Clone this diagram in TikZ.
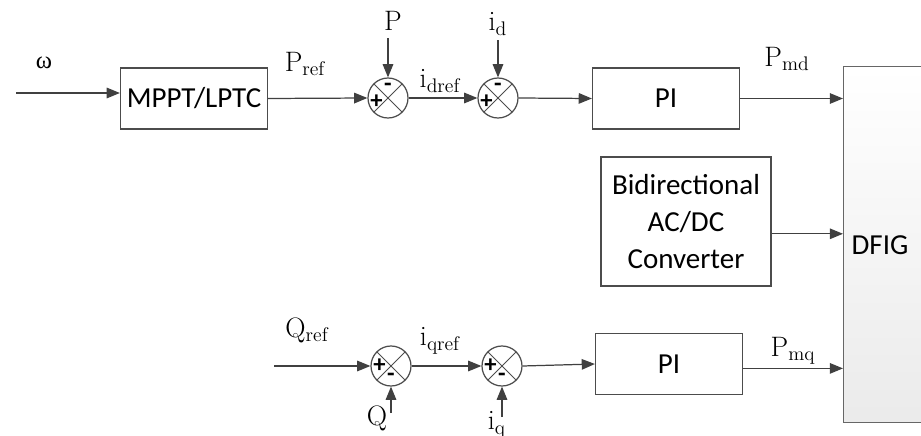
\documentclass[tikz,border=0pt]{standalone}
\usepackage{fontspec}
\newfontfamily\blockfont{Carlito}
\newfontfamily\greekfont{Liberation Serif}
\usetikzlibrary{arrows.meta}

\begin{document}
\begin{tikzpicture}[
    x=0.02cm, y=-0.02cm,
    block/.style = {rectangle, draw=black!70, line width=0.7pt, minimum width=2.94cm,
                    minimum height=1.22cm, align=center, font=\blockfont\fontsize{16.5}{21}\selectfont},
    summer/.style = {circle, draw=black!70, line width=0.7pt, minimum size=0.8cm, inner sep=0pt,
                     path picture={\draw[black!70, line width=0.6pt]
                        (path picture bounding box.south west) -- (path picture bounding box.north east)
                        (path picture bounding box.north west) -- (path picture bounding box.south east);}},
    sig/.style = {font=\blockfont\bfseries\fontsize{14}{14}\selectfont, inner sep=0pt},
    lbl/.style = {font=\fontsize{16}{19}\selectfont, inner sep=0pt},
    dfigbox/.style = {rectangle, draw=black!60, line width=0.7pt, top color=white, bottom color=black!8},
    wire/.style = {->, draw=black!75, line width=0.7pt},
    >={Triangle[length=7.5pt,width=6pt]}
]
\useasboundingbox (0,0) rectangle (921,436);

% --- Blocks ---
\node[block] (mppt) at (194,98.5) {MPPT/LPTC};
\node[block] (pid) at (666,98.5) {PI};
\node[block, minimum width=3.4cm, minimum height=2.58cm] (conv) at (686,221.5) {Bidirectional\\AC/DC\\Converter};
\node[block] (piq) at (669,364) {PI};
\node[dfigbox, anchor=north west, minimum width=1.9cm, minimum height=7.12cm] (dfig) at (843,66) {};
\node[block, draw=none] (dfigtext) at (880,245) {DFIG};

% --- Summing junctions ---
\node[summer] (s1) at (388,98) {};
\node[summer] (s2) at (498,98) {};
\node[summer] (s3) at (391,366) {};
\node[summer] (s4) at (502,366) {};

\node[sig] (s1plus) at ([shift={(-6.5pt,-2pt)}]s1.center) {+};
\node[sig] (s1minus) at ([shift={(0pt,6pt)}]s1.center) {-};
\node[sig] (s2plus) at ([shift={(-6.5pt,-2pt)}]s2.center) {+};
\node[sig] (s2minus) at ([shift={(0pt,6pt)}]s2.center) {-};
\node[sig] (s3plus) at ([shift={(-6.5pt,0pt)}]s3.center) {+};
\node[sig] (s3minus) at ([shift={(0pt,-6.5pt)}]s3.center) {-};
\node[sig] (s4plus) at ([shift={(-6.5pt,0pt)}]s4.center) {+};
\node[sig] (s4minus) at ([shift={(0pt,-6.5pt)}]s4.center) {-};

% --- Free ends of the input lines ---
\coordinate (win) at (16,93);
\coordinate (pfb) at (388,38);
\coordinate (idfb) at (498,40);
\coordinate (qin) at (274,366);
\coordinate (qfb) at (391,413);
\coordinate (iqfb) at (502,417);

% --- Upper row ---
\draw[wire] (win) -- (win -| mppt.west);
\draw[wire] (mppt.east) -- (s1.west);
\draw[wire] (pfb) -- (s1.north);
\draw[wire] (s1.east) -- (s2.west);
\draw[wire] (idfb) -- (s2.north);
\draw[wire] (s2.east) -- (pid.west);
\draw[wire] (pid.east) -- (pid.east -| dfig.west);

% --- Converter ---
\draw[wire] ([yshift=-7pt]conv.east) -- ([yshift=-7pt]conv.east -| dfig.west);

% --- Lower row ---
\draw[wire] (qin) -- (s3.west);
\draw[wire] (qfb) -- (s3.south);
\draw[wire] (s3.east) -- (s4.west);
\draw[wire] (iqfb) -- (s4.south);
\draw[wire] (s4.east) -- (piq.west);
\draw[wire] ([yshift=-2.5pt]piq.east) -- ([yshift=-2.5pt]piq.east -| dfig.west);

% --- Signal labels ---
\node[lbl, font=\greekfont\fontsize{14}{16}\selectfont] (lomega) at (44,63) {ω};
\node[lbl] (lpref) at (305,64) {$\mathrm{P}_{\mathrm{ref}}$};
\node[lbl] (lp) at (393,21) {$\mathrm{P}$};
\node[lbl] (lidref) at (440,81) {$\mathrm{i}_{\mathrm{dref}}$};
\node[lbl] (lid) at (498,24) {$\mathrm{i}_{\mathrm{d}}$};
\node[lbl] (lpmd) at (787,59) {$\mathrm{P}_{\mathrm{md}}$};
\node[lbl] (lqref) at (307,330) {$\mathrm{Q}_{\mathrm{ref}}$};
\node[lbl] (liqref) at (440,341) {$\mathrm{i}_{\mathrm{qref}}$};
\node[lbl] (lq) at (377,418) {$\mathrm{Q}$};
\node[lbl] (liq) at (497,425) {$\mathrm{i}_{\mathrm{q}}$};
\node[lbl] (lpmq) at (793,351) {$\mathrm{P}_{\mathrm{mq}}$};

\end{tikzpicture}
\end{document}
